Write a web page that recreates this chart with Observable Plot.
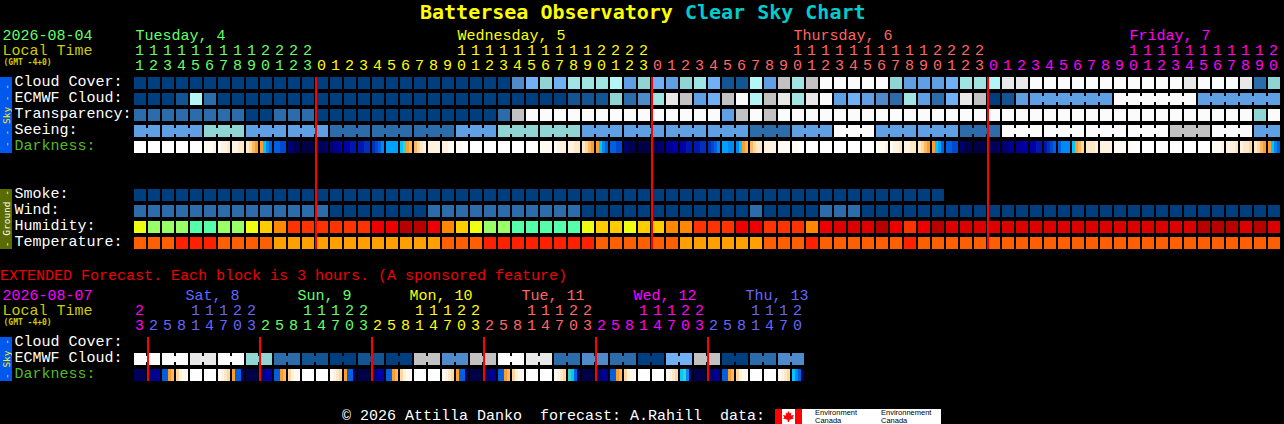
<!DOCTYPE html>
<html>
<head>
<meta charset="utf-8">
<script src="https://cdn.jsdelivr.net/npm/d3@7"></script>
<script src="https://cdn.jsdelivr.net/npm/@observablehq/plot@0.6"></script>
<style>
html,body{margin:0;padding:0;background:#000;width:1284px;height:424px;overflow:hidden}
#page{position:relative;width:1284px;height:424px;background:#000;font-family:"Liberation Mono",monospace;font-size:15px}
#page svg{display:block;background:#000;position:absolute;left:0}
.abs{position:absolute;white-space:pre;line-height:1}
.side{position:absolute;left:0;width:12px;display:flex;align-items:center;justify-content:center;font:9.5px "DejaVu Sans Mono",monospace;white-space:pre;overflow:hidden}
.side span{writing-mode:vertical-rl;transform:rotate(180deg)}
</style>
</head>
<body>
<div id="page">
  <div class="abs" style="left:420px;top:0px;font:bold 20px 'DejaVu Sans Mono',monospace;color:#ffff00">Battersea Observatory <span style="color:#00cccc">Clear Sky Chart</span></div>
  <div class="abs" style="left:0;top:269px;color:#f00000">EXTENDED Forecast. Each block is 3 hours. (A sponsored feature)</div>
  <div id="main"></div>
  <div id="ext"></div>
  <div class="side" style="top:77px;height:76px;background:#0058ee;color:#ffee00"><span>- - Sky - -</span></div>
  <div class="side" style="top:189px;height:60px;background:#5a6c00;color:#fff"><span>- Ground -</span></div>
  <div class="side" style="top:337px;height:44px;background:#0058ee;color:#ffee00"><span>- Sky -</span></div>
  <div class="abs" style="left:342px;top:409px;color:#fff">© 2026 Attilla Danko  forecast: A.Rahill  data: </div>
  <div class="abs" style="left:775px;top:409px;width:166px;height:15px;background:#fff;overflow:hidden">
    <div style="position:absolute;left:0;top:0;width:7px;height:15px;background:#f00"></div>
    <div style="position:absolute;left:20px;top:0;width:7px;height:15px;background:#f00"></div>
    <div style="position:absolute;left:8px;top:2px;width:11px;height:11px;background:#f00;clip-path:polygon(50% 0,62% 22%,76% 14%,72% 42%,100% 36%,88% 58%,100% 68%,60% 80%,56% 100%,44% 100%,40% 80%,0 68%,12% 58%,0 36%,28% 42%,24% 14%,38% 22%)"></div>
    <div style="position:absolute;left:40px;top:0;font:7.5px/7.5px 'Liberation Sans',sans-serif;color:#000;white-space:pre">Environment
Canada</div>
    <div style="position:absolute;left:106px;top:0;font:7.5px/7.5px 'Liberation Sans',sans-serif;color:#000;white-space:pre">Environnement
Canada</div>
  </div>
</div>
<script>
// ---------- main chart: one entry per hour ----------
const chartDate = "2026-08-04";
const extDate = "2026-08-07";
const localTime = "Local Time";
const gmtNote = "(GMT -4+0)";

const hours = [11,12,13,14,15,16,17,18,19,20,21,22,23,
  0,1,2,3,4,5,6,7,8,9,10,11,12,13,14,15,16,17,18,19,20,21,22,23,
  0,1,2,3,4,5,6,7,8,9,10,11,12,13,14,15,16,17,18,19,20,21,22,23,
  0,1,2,3,4,5,6,7,8,9,10,11,12,13,14,15,16,17,18,19,20];
const days = ["Tuesday, 4","Wednesday, 5","Thursday, 6","Friday, 7"];
const dayFirstCell = [0,13,37,61];
const dayLabelCell = [0,23,47,71];
const midnights = [13,37,61];

// cloud levels: 0 clear ... 11 overcast
const cloudCover = [0,0,0,0,0,0,0,0,0,0,0,0,0,0,0,0,0,0,0,0,0,0,0,0,0,0,0,
  3,5,6,5,7,7,7,8,4,6,5,4,6,7,5,1,1,8,4,9,7,9,11,11,11,
  11,11,6,4,4,4,5,7,7,8,10,10,
  11,11,11,11,11,11,11,11,11,11,11,10,11,11,11,10,2,6];
const ecmwfCloud = [0,0,0,1,8,2,0,0,0,0,0,0,0,0,0,0,0,0,0,0,0,0,0,0,0,0,0,0,0,0,0,
  1,1,1,6,2,3,7,10,9,4,5,9,11,8,9,10,7,10,11,4,5,
  4,3,2,7,4,2,5,10,9,0,1,4,
  4,4,4,4,4,4,11,11,11,11,11,11,4,4,4,4,4,4];
const ecmwfLinks = [64,65,66,67,68,70,71,72,73,74,76,77,78,79,80];
const transparency = [2,2,2,2,2,2,2,2,0,0,2,2,2,0,0,0,0,0,0,0,0,0,0,0,0,0,2,9,
  11,11,11,11,11,11,11,11,11,11,11,11,11,11,4,9,11,9,
  11,11,11,11,11,11,11,11,11,11,11,11,11,11,11,11,11,11,11,11,11,11,11,11,11,11,11,11,11,11,11,11,11,11,6,11];
const seeing = [4,4,4,4,4,6,6,6,4,4,4,4,4,4,2,2,2,2,2,2,2,2,2,4,4,4,6,6,6,6,6,6,
  4,4,4,4,4,4,4,4,4,4,4,4,2,2,2,4,4,4,11,11,11,4,4,4,4,4,4,2,2,2,
  11,11,11,11,11,11,11,11,11,11,11,11,9,9,9,11,11,11,4,4];
const seeingLinks = [0,2,3,5,6,8,9,11,12,14,15,17,18,20,21,23,24,26,27,29,30,32,33,35,36,38,39,41,42,44,45,47,48,50,51,53,54,56,57,59,60,62,63,65,66,68,69,71,72,74,75,77,78,80];
const darkness = ["wwww","wwww","wwww","wwww","wwww","aaab","abbc","bbcc","cdef","fhjk","kkll","qqrr","ssss","rrrq","qppo","oonn","nnmm","mlkj","iiii","hgfe","edcb",
  "bbbb","bbaa","aaww","wwww","wwww","wwww","wwww","wwww","aaaa","abbb","bbcc","cdef","fhjk","kkll","qrrs","ssss","rrqq","ppoo","oonn","nnmm","mlkj","iijj","jhfe","edcc",
  "bbbb","aaaa","aaww","wwww","wwww","wwww","wwww","wwww","aaab","abbc","bbcc","cdef","fhik","kkll","qrss","ssss","rrrq","qqpp","ppoo","oonn","nmlk","kjjj","hfed",
  "cccb","bbbb","aaaa","awww","wwww","wwww","wwww","wwww","wwww","aaab","bbbc","bccd","cdef","fhjk"];
const smoke = [0,0,0,0,0,0,0,0,0,0,0,0,0,0,0,0,0,0,0,0,0,0,0,0,0,0,0,0,0,0,
  0,0,0,0,0,0,0,0,0,0,0,0,0,0,0,0,0,0,0,0,0,0,0,0,0,0,0,0];
const wind = [2,2,2,2,2,2,2,2,2,2,2,2,2,2,0,0,0,0,0,0,0,
  2,2,2,2,2,2,2,2,2,2,2,0,0,0,0,0,0,0,0,0,0,0,0,2,0,0,0,0,2,2,2,
  0,0,0,0,0,0,0,0,0,0,0,0,0,0,0,0,0,0,0,0,0,0,0,0,0,0,0,0,0,0];
const humidity = [..."YGGGMMGGYAORRRRRRrrDD"+"rOAYGGMMMMMYAAYAAOORRRrrRRROrEE"+"EDrRrDEEEEEEEEEEEEEEEEEEDDDEDE"];
const temperature = [..."TTTFFFTTTTAAAAAAAAAAA"+"ATTTFFFFFFFFTTTTTTAAAAAATTTFTTT"+"TTTFTTTTTTTTTTTTTTTTTTTTTTTTTT"];

// ---------- extended forecast: one entry per 3 hours ----------
const extHours = [23,2,5,8,11,14,17,20,23,2,5,8,11,14,17,20,23,2,5,8,11,14,17,20,23,2,5,8,11,14,17,20,23,2,5,8,11,14,17,20,23,2,5,8,11,14,17,20];
const extDays = ["Sat, 8","Sun, 9","Mon, 10","Tue, 11","Wed, 12","Thu, 13"];
const extDayFirstCell = [1,9,17,25,33,41];
const extEcmwf = [11,11,11,11,10,10,11,11,6,6,2,2,1,1,0,0,1,1,0,0,9,9,3,3,9,9,11,11,10,10,2,2,3,3,2,2,0,0,5,5,9,9,0,0,2,2,3,3];
const extLinks = [0,2,4,6,8,10,12,14,16,18,20,22,24,26,28,30,32,34,36,38,40,42,44,46];
const extDarkness = ["rrrr","qppo","kkfe","dbaa","wwww","wwww","abcd","fkkq",
  "ssss","qpoo","kkfe","dbaa","wwww","wwww","abcd","fkkq",
  "ssss","qpoo","kkfe","dbaa","wwww","wwww","abcd","fkkq",
  "ssss","qqpp","kkfe","dbaa","wwww","wwww","abcd","ghkq",
  "ssss","qqpp","kkfe","dbaa","wwww","wwww","abcd","hgjq",
  "ssss","qqpp","kkfe","dbaa","wwww","wwww","abcd","hjkr"];

// ---------- styles ----------
const mono = "'Liberation Mono',monospace";
const dayColors = ["#66ff66","#ffff00","#ff6666","#ff00ff"];
const extDayColors = ["#6666ff","#66ff66","#ffff00","#ff6666","#ff00ff","#6666ff"];
const palette = {
  c0:"#003f7f",c1:"#135592",c2:"#2c6cab",c3:"#4f8bcb",c4:"#5f9fe3",c5:"#70b0f5",c6:"#90d4d4",c7:"#a0e4e4",c8:"#b4f6f6",c9:"#c2c2c2",c10:"#e8e8e8",c11:"#fbfbfb",
  hY:"#eeff11",hG:"#99ff66",hM:"#55ffaa",hA:"#ffcc00",hO:"#ff8800",hR:"#ff3300",hr:"#ee0000",hE:"#dd0000",hD:"#b80000",
  tT:"#ff5f00",tF:"#ff2000",tA:"#ffa000",
  dw:"#ffffff",da:"#fffaf2",db:"#fff2e0",dc:"#ffe8c8",dd:"#ffd8a0",de:"#ffb860",df:"#ff9c30",dg:"#40d0c0",dh:"#00c8ff",di:"#00a0ff",dj:"#0088f4",dk:"#0060e0",dl:"#0048d0",dm:"#0030c0",dn:"#0018b0",do:"#0000a8",dp:"#000090",dq:"#000070",dr:"#000058",ds:"#000048"
};
const colorScale = {type:"ordinal",domain:Object.keys(palette),range:Object.values(palette)};

const rows = ["Cloud Cover:","ECMWF Cloud:","Transparency:","Seeing:","Darkness:","·","··","Smoke:","Wind:","Humidity:","Temperature:"];
const extRows = ["Cloud Cover:","ECMWF Cloud:","Darkness:"];
const labelColor = r => r==="Darkness:" ? "#55bb22" : "#ffffff";
const labelRows = list => list.filter(r=>!r.startsWith("·"));

const cells = (row,values,prefix) => Array.from(values,(v,i)=>({row,i,key:prefix+v}));
const slices = (row,values) => values.flatMap((s,i)=>[...s].map((c,k)=>({row,i,k,key:"d"+c})));
const links = (row,list,values) => list.map(i=>({row,i,key:"c"+values[i]}));

function cellColor(i,first,colors,fallback){
  let c = fallback;
  first.forEach((f,n)=>{ if(i>=f) c = colors[n]; });
  return c;
}

const xScale = {type:"linear",domain:[0,82],axis:null};
const yScale = domain => ({type:"band",domain,paddingInner:0.25,paddingOuter:0,align:0,axis:null,round:false});
const cellOpts = {x1:"i",x2:d=>d.i+1,y:"row",fill:"key",insetRight:2,shapeRendering:"crispEdges"};
const linkOpts = {x1:"i",x2:d=>d.i+1,y:"row",fill:"key",insetLeft:12,insetTop:3,insetBottom:3,shapeRendering:"crispEdges"};
const sliceOpts = {x1:d=>d.i+d.k*3/14,x2:d=>d.i+(d.k+1)*3/14,y:"row",fill:"key",insetRight:0,shapeRendering:"crispEdges"};
const textBase = {fontFamily:mono,fontSize:15,lineAnchor:"middle"};
const midnightOpts = {x1:d=>d-1/14,x2:d=>d+1/14,fill:"#ff0000",shapeRendering:"crispEdges"};

function headerMarks(hourList,first,colors,fallback,dayNames,labelCells,labelDx,dateText,dateColor){
  const digits = hourList.map((h,i)=>({i,h,color:cellColor(i,first,colors,fallback)}));
  return [
    Plot.text(digits,{...textBase,x:d=>d.i+6/14,frameAnchor:"top",dy:-12,dx:-1,text:d=>String(d.h%10),fill:d=>d.color}),
    Plot.text(digits.filter(d=>d.h>=10),{...textBase,x:d=>d.i+6/14,frameAnchor:"top",dy:-27,dx:-1,text:d=>String(d.h).charAt(0),fill:d=>d.color}),
    Plot.text(dayNames,{...textBase,x:(d,n)=>labelCells[n],frameAnchor:"top",dy:-42,dx:labelDx,textAnchor:"start",text:d=>d,fill:(d,n)=>colors[n]}),
    Plot.text([dateText],{...textBase,frameAnchor:"top-left",dx:-132,dy:-42,text:d=>d,fill:dateColor}),
    Plot.text([localTime],{...textBase,frameAnchor:"top-left",dx:-132,dy:-27,text:d=>d,fill:"#cccc00"}),
    Plot.text([gmtNote],{frameAnchor:"top-left",dx:-131,dy:-15,lineAnchor:"middle",fontFamily:"'DejaVu Sans Mono',monospace",fontSize:8,fontWeight:"bold",text:d=>d,fill:"#cccc00"})
  ];
}
function rowLabels(list){
  return Plot.text(labelRows(list),{...textBase,y:d=>d,frameAnchor:"left",dx:-120,dy:-2,textAnchor:"start",text:d=>d,fill:labelColor});
}

const mainPlot = Plot.plot({
  width:1284,height:244,marginLeft:134,marginRight:2,marginTop:53,marginBottom:19,
  style:{background:"#000",overflow:"visible"},
  x:xScale,y:yScale(rows),color:colorScale,
  marks:[
    Plot.barX(cells(rows[0],cloudCover,"c"),cellOpts),
    Plot.barX(cells(rows[1],ecmwfCloud,"c"),cellOpts),
    Plot.barX(links(rows[1],ecmwfLinks,ecmwfCloud),linkOpts),
    Plot.barX(cells(rows[2],transparency,"c"),cellOpts),
    Plot.barX(cells(rows[3],seeing,"c"),cellOpts),
    Plot.barX(links(rows[3],seeingLinks,seeing),linkOpts),
    Plot.barX(slices(rows[4],darkness),sliceOpts),
    Plot.barX(cells(rows[7],smoke,"c"),cellOpts),
    Plot.barX(cells(rows[8],wind,"c"),cellOpts),
    Plot.barX(cells(rows[9],humidity,"h"),cellOpts),
    Plot.barX(cells(rows[10],temperature,"t"),cellOpts),
    Plot.barX(midnights,midnightOpts),
    rowLabels(rows),
    ...headerMarks(hours,dayFirstCell,dayColors,dayColors[0],days,dayLabelCell,1,chartDate,"#66ff66")
  ]
});
mainPlot.style.top="24px";
document.getElementById("main").appendChild(mainPlot);

const extPlot = Plot.plot({
  width:1284,height:117,marginLeft:134,marginRight:2,marginTop:52,marginBottom:21,
  style:{background:"transparent",overflow:"visible"},
  x:xScale,y:yScale(extRows),color:colorScale,
  marks:[
    Plot.barX(cells(extRows[1],extEcmwf,"c"),cellOpts),
    Plot.barX(links(extRows[1],extLinks,extEcmwf),linkOpts),
    Plot.barX(slices(extRows[2],extDarkness),sliceOpts),
    Plot.barX(extDayFirstCell,midnightOpts),
    rowLabels(extRows),
    ...headerMarks(extHours,extDayFirstCell,extDayColors,"#ff00ff",extDays,extDayFirstCell.map(f=>f+3),-5,extDate,"#ff00ff")
  ]
});
extPlot.style.top="285px";
document.getElementById("ext").appendChild(extPlot);
</script>
</body>
</html>
